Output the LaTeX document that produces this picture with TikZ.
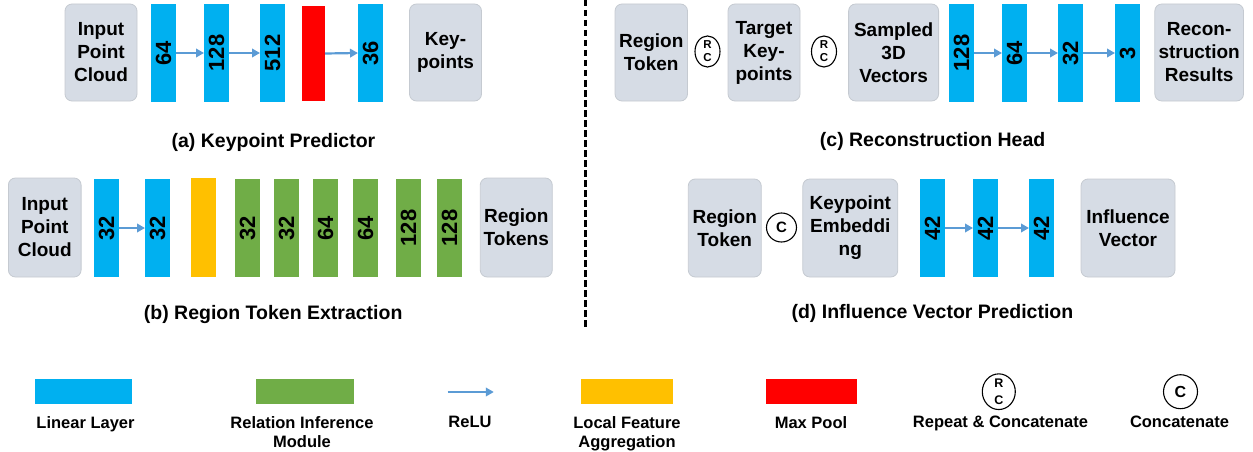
\documentclass[tikz,border=0pt]{standalone}
\usepackage{fontspec}
\setmainfont{Liberation Sans}
\usetikzlibrary{arrows.meta,shapes.geometric}
\definecolor{lin}{HTML}{00B0F0}
\definecolor{rim}{HTML}{70AD47}
\definecolor{lfa}{HTML}{FFC000}
\definecolor{mpc}{HTML}{FF0000}
\definecolor{boxfill}{HTML}{D6DCE5}
\definecolor{boxdraw}{HTML}{C5CAD1}
\definecolor{arrowc}{HTML}{5B9BD5}
\newcommand\myboxfont{\fontsize{19}{23}\selectfont\bfseries}
\newcommand\mynumfont{\fontsize{22}{22}\selectfont\bfseries}
\newcommand\mycapfont{\fontsize{19.5}{23}\selectfont\bfseries}
\newcommand\mylegfont{\fontsize{16.5}{19}\selectfont\bfseries}
\newcommand\myrcfont{\fontsize{11.5}{13}\selectfont\bfseries}
\newcommand\myrclegfont{\fontsize{12.5}{16.5}\selectfont\bfseries}
\begin{document}
\begin{tikzpicture}[x=1pt,y=-1pt,
  gbox/.style={draw=boxdraw, line width=0.8pt, fill=boxfill, rounded corners=7pt,
    align=center, font=\myboxfont, inner sep=0pt, minimum height=97pt},
  barbase/.style={inner sep=0pt, outer sep=0pt, minimum width=25pt, minimum height=98pt},
  lbar/.style={barbase, fill=lin},
  gbar/.style={barbase, fill=rim},
  num/.style={rotate=90, font=\mynumfont, inner sep=0pt},
  relu/.style={draw=arrowc, line width=2.2pt, -{Triangle[length=8pt,width=8.5pt]}},
  capt/.style={font=\mycapfont, inner sep=0pt},
  rcnode/.style={draw=black, line width=1.1pt, ellipse, inner sep=0pt, align=center, fill=white},
  leg/.style={font=\mylegfont, align=center, anchor=north, inner sep=0pt},
  legrect/.style={inner sep=0pt, minimum width=97pt, minimum height=25pt}
]
\useasboundingbox (0,0) rectangle (1253,452);

% ---------------- (a) Keypoint Predictor ----------------
\node[gbox, minimum width=72pt] (ipcA) at (101,52.5) {Input\\Point\\Cloud};
\node[lbar] (a1) at (163.5,53) {};
\node[lbar] (a2) at (216.5,53) {};
\node[lbar] (a3) at (272.5,53) {};
\node[barbase, fill=mpc, minimum width=23pt, minimum height=95pt] (amp) at (313.5,53.5) {};
\node[lbar] (a4) at (370.5,53) {};
\node[gbox, minimum width=72pt] (kpA) at (445.5,52.5) {Key-\\points};
\node[num] (a1t) at (a1) {64};
\node[num] (a2t) at (a2) {128};
\node[num] (a3t) at (a3) {512};
\node[num] (a4t) at (a4) {36};
\draw[relu] (a1.east) -- (a2.west);
\draw[relu] (a2.east) -- (a3.west);
\draw[relu] (amp.east) -- (a4.west);
\node[capt] (capA) at (273.5,142) {(a) Keypoint Predictor};

% ---------------- (b) Region Token Extraction ----------------
\node[gbox, minimum width=72.7pt, minimum height=99pt] (ipcB) at (44.75,227.5) {Input\\Point\\Cloud};
\node[lbar] (b1) at (106.5,228) {};
\node[lbar] (b2) at (157.5,228) {};
\node[barbase, fill=lfa, minimum height=99pt] (bl) at (203.5,227.2) {};
\node[gbar] (g1) at (247.5,228) {};
\node[gbar] (g2) at (286.5,228) {};
\node[gbar] (g3) at (325.5,228) {};
\node[gbar] (g4) at (365.5,228) {};
\node[gbar] (g5) at (408.5,228) {};
\node[gbar] (g6) at (449.5,228) {};
\node[gbox, minimum width=72pt, minimum height=99pt] (rtB) at (516.25,227.5) {Region\\Tokens};
\node[num] (b1t) at (b1) {32};
\node[num] (b2t) at (b2) {32};
\node[num] (g1t) at (g1) {32};
\node[num] (g2t) at (g2) {32};
\node[num] (g3t) at (g3) {64};
\node[num] (g4t) at (g4) {64};
\node[num] (g5t) at (g5) {128};
\node[num] (g6t) at (g6) {128};
\draw[relu] (b1.east) -- (b2.west);
\node[capt] (capB) at (273.2,314) {(b) Region Token Extraction};

% ---------------- divider ----------------
\coordinate (dtop) at (585.5,0);
\coordinate (dbot) at (585.5,328);
\draw[line width=2.5pt, dash pattern=on 6.5pt off 3.5pt] (dtop) -- (dbot);

% ---------------- (c) Reconstruction Head ----------------
\node[gbox, minimum width=72.5pt] (rtC) at (651.25,52.5) {Region\\Token};
\node[rcnode, minimum width=25pt, minimum height=31pt, font=\myrcfont] (rc1) at (707.5,51.5) {R\\C};
\node[gbox, minimum width=72pt] (tkC) at (764,52.5) {Target\\Key-\\points};
\node[rcnode, minimum width=25pt, minimum height=31pt, font=\myrcfont] (rc2) at (824,51.5) {R\\C};
\node[gbox, minimum width=90pt] (s3dC) at (893.6,52.5) {Sampled\\3D\\Vectors};
\node[lbar] (c1) at (961.5,53) {};
\node[lbar] (c2) at (1014.5,53) {};
\node[lbar] (c3) at (1070.5,53) {};
\node[lbar] (c4) at (1127.5,53) {};
\node[gbox, minimum width=88.7pt] (recC) at (1199.15,52.5) {Recon-\\struction\\Results};
\node[num] (c1t) at (c1) {128};
\node[num] (c2t) at (c2) {64};
\node[num] (c3t) at (c3) {32};
\node[num] (c4t) at (c4) {3};
\draw[relu] (c1.east) -- (c2.west);
\draw[relu] (c2.east) -- (c3.west);
\draw[relu] (c3.east) -- (c4.west);
\node[capt] (capC) at (932.6,141) {(c) Reconstruction Head};

% ---------------- (d) Influence Vector Prediction ----------------
\node[gbox, minimum width=73pt, minimum height=98pt] (rtD) at (724.75,228) {Region\\Token};
\node[rcnode, minimum width=30pt, minimum height=29pt, font=\fontsize{15}{15}\selectfont\bfseries] (cD) at (781.5,227.5) {C};
\node[gbox, minimum width=95pt, minimum height=98pt] (keD) at (850.3,228) {Keypoint\\Embeddi\\ng};
\node[lbar] (d1) at (932.5,228) {};
\node[lbar] (d2) at (985.5,228) {};
\node[lbar] (d3) at (1041.5,228) {};
\node[gbox, minimum width=94pt, minimum height=98pt] (ivD) at (1128,228) {Influence\\Vector};
\node[num] (d1t) at (d1) {42};
\node[num] (d2t) at (d2) {42};
\node[num] (d3t) at (d3) {42};
\draw[relu] (d1.east) -- (d2.west);
\draw[relu] (d2.east) -- (d3.west);
\node[capt] (capD) at (932.4,313.5) {(d) Influence Vector Prediction};

% ---------------- legend ----------------
\node[legrect, fill=lin] (linL) at (83.15,391.5) {};
\node[leg] (linLt) at (85.5,416) {Linear Layer};
\node[legrect, fill=rim, minimum width=98.3pt] (rimL) at (304.85,391.5) {};
\node[leg] (rimLt) at (302,416) {Relation Inference\\Module};
\coordinate (reluA) at (447.5,392);
\coordinate (reluB) at (493.8,392);
\draw[relu] (reluA) -- (reluB);
\node[leg] (reluLt) at (470,416) {ReLU};
\node[legrect, fill=lfa, minimum width=91.8pt] (lfaL) at (626.9,391.5) {};
\node[leg] (lfaLt) at (627,416) {Local Feature\\Aggregation};
\node[legrect, fill=mpc, minimum width=91pt] (mpL) at (811,391.5) {};
\node[leg] (mpLt) at (811,416) {Max Pool};
\node[rcnode, minimum width=33pt, minimum height=33pt, font=\myrclegfont] (rcL) at (998.8,391.7) {R\\C};
\node[leg] (rcLt) at (1000.5,416) {Repeat \& Concatenate};
\node[rcnode, circle, minimum size=34pt, font=\fontsize{16}{16}\selectfont\bfseries] (cL) at (1180.5,391.7) {C};
\node[leg] (cLt) at (1179.5,416) {Concatenate};
\end{tikzpicture}
\end{document}
